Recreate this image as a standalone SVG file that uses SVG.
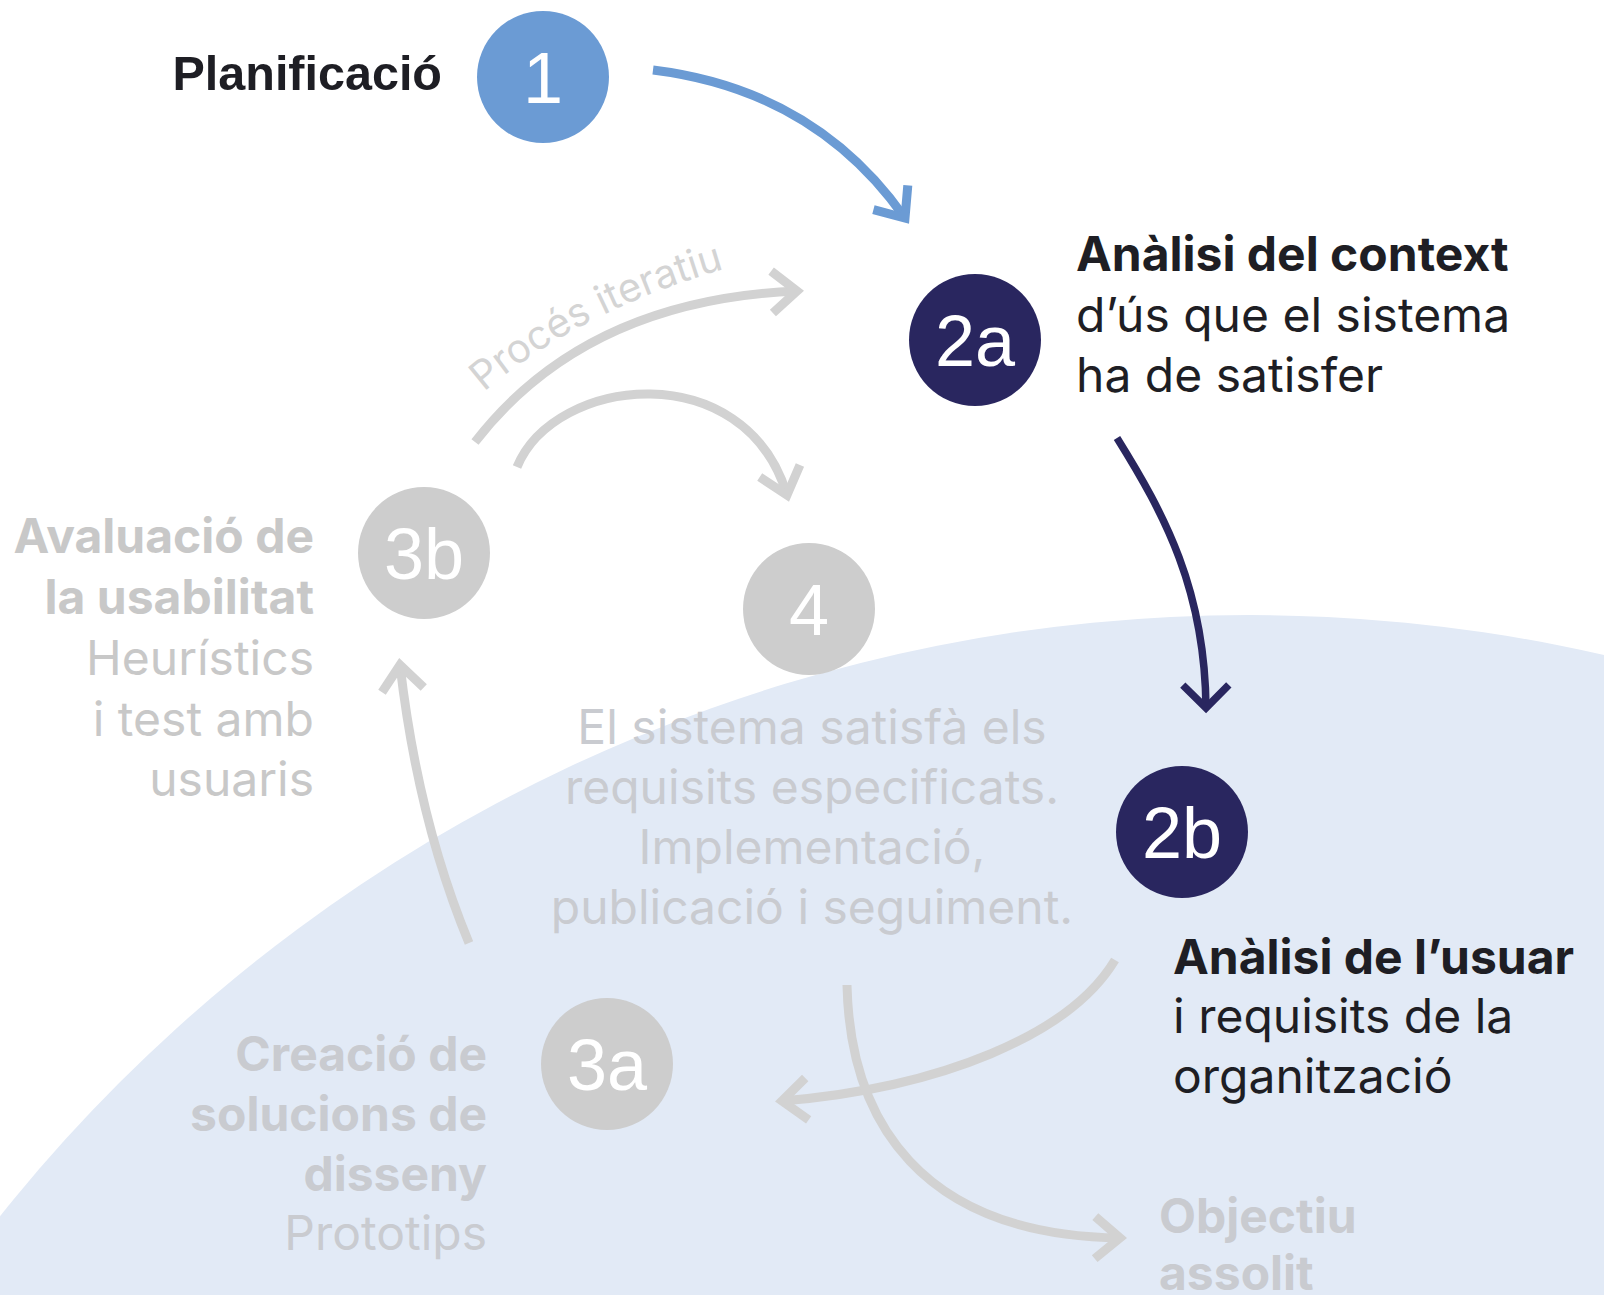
<svg xmlns="http://www.w3.org/2000/svg" width="1604" height="1295" viewBox="0 0 1604 1295">
  <defs>
    <style>
      .num { font-family: "Liberation Sans", Arial, sans-serif; font-size: 72px; fill: #ffffff; text-anchor: middle; }
      .lbl { font-family: Inter, "Liberation Sans", sans-serif; font-size: 48px; }
      .b { font-weight: 700; }
      .end { text-anchor: end; }
      .mid { text-anchor: middle; }
      .dark { fill: #1e1e24; }
      .dim { fill: #c8c8c8; }
      .dimb { fill: #c9cbd0; }
      .conn { fill: none; stroke-linecap: butt; }
      .c-blue { stroke: #6b9bd4; stroke-width: 9; }
      .c-navy { stroke: #29265f; stroke-width: 7.5; }
      .c-gray { stroke: #d2d2d2; stroke-width: 9; }
    </style>
    <marker id="ah-blue" markerUnits="userSpaceOnUse" viewBox="-40 -40 60 80" markerWidth="60" markerHeight="80" refX="0" refY="0" orient="auto" overflow="visible">
      <path d="M-25,-21 L0,0 L-25,21" fill="none" stroke="#6b9bd4" stroke-width="9"/>
    </marker>
    <marker id="ah-navy" markerUnits="userSpaceOnUse" viewBox="-40 -40 60 80" markerWidth="60" markerHeight="80" refX="0" refY="0" orient="auto" overflow="visible">
      <path d="M-23,-23 L0,0 L-23,23" fill="none" stroke="#29265f" stroke-width="7.5"/>
    </marker>
    <marker id="ah-gray" markerUnits="userSpaceOnUse" viewBox="-40 -40 60 80" markerWidth="60" markerHeight="80" refX="0" refY="0" orient="auto" overflow="visible">
      <path d="M-25,-21 L0,0 L-25,21" fill="none" stroke="#d2d2d2" stroke-width="9"/>
    </marker>
    <path id="iterPath" d="M484,392 Q585,305 750,262"/>
  </defs>

  <rect width="1604" height="1295" fill="#ffffff"/>
  <circle id="background" cx="1249" cy="2213" r="1598" fill="#e2eaf6"/>

  <g id="connectors">
    <path class="conn c-blue" d="M653,70 Q815,90 905,218" marker-end="url(#ah-blue)"/>
    <path class="conn c-navy" d="M1117,438 C1165,515 1205,590 1206,708" marker-end="url(#ah-navy)"/>
    <path class="conn c-gray" d="M475,442 Q585,300 797,291" marker-end="url(#ah-gray)"/>
    <path class="conn c-gray" d="M517,467 C555,375 745,355 787,495" marker-end="url(#ah-gray)"/>
    <path class="conn c-gray" d="M469,943 Q418,820 400,665" marker-end="url(#ah-gray)"/>
    <path class="conn c-gray" d="M1115,960 C1070,1035 940,1088 782,1101" marker-end="url(#ah-gray)"/>
    <path class="conn c-gray" d="M847,985 C850,1120 920,1235 1120,1238" marker-end="url(#ah-gray)"/>
    <text class="lbl" style="font-size:40px" fill="#d4d4d4"><textPath href="#iterPath">Procés iteratiu</textPath></text>
  </g>

  <g id="node-1">
    <circle cx="543" cy="77" r="66" fill="#6b9bd4"/>
    <text class="num" x="543" y="103">1</text>
    <text class="b dark end" x="442" y="90" style="font-family:'Liberation Sans',Arial,sans-serif;font-size:48.5px">Planificació</text>
  </g>

  <g id="node-2a">
    <circle cx="975" cy="340" r="66" fill="#29265f"/>
    <text class="num" x="975" y="366">2a</text>
    <text class="lbl b dark" x="1076" y="271">Anàlisi del context</text>
    <text class="lbl dark" x="1076" y="332">d’ús que el sistema</text>
    <text class="lbl dark" x="1076" y="392">ha de satisfer</text>
  </g>

  <g id="node-2b">
    <circle cx="1182" cy="832" r="66" fill="#29265f"/>
    <text class="num" x="1182" y="858">2b</text>
    <text class="lbl b dark" x="1173" y="974">Anàlisi de l’usuar</text>
    <text class="lbl dark" x="1173" y="1033">i requisits de la</text>
    <text class="lbl dark" x="1173" y="1093">organització</text>
  </g>

  <g id="node-3b">
    <circle cx="424" cy="553" r="66" fill="#cdcdcd"/>
    <text class="num" x="424" y="579">3b</text>
    <text class="lbl b dim end" x="314" y="553">Avaluació de</text>
    <text class="lbl b dim end" x="314" y="614">la usabilitat</text>
    <text class="lbl dim end" x="314" y="675">Heurístics</text>
    <text class="lbl dim end" x="314" y="736">i test amb</text>
    <text class="lbl dim end" x="314" y="796">usuaris</text>
  </g>

  <g id="node-4">
    <circle cx="809" cy="609" r="66" fill="#cdcdcd"/>
    <text class="num" x="809" y="635">4</text>
    <text class="lbl dimb mid" x="812" y="744">El sistema satisfà els</text>
    <text class="lbl dimb mid" x="812" y="804">requisits especificats.</text>
    <text class="lbl dimb mid" x="812" y="864">Implementació,</text>
    <text class="lbl dimb mid" x="812" y="924">publicació i seguiment.</text>
  </g>

  <g id="node-3a">
    <circle cx="607" cy="1064" r="66" fill="#cdcdcd"/>
    <text class="num" x="607" y="1090">3a</text>
    <text class="lbl b dimb end" x="487" y="1071">Creació de</text>
    <text class="lbl b dimb end" x="487" y="1131">solucions de</text>
    <text class="lbl b dimb end" x="487" y="1191">disseny</text>
    <text class="lbl dimb end" x="487" y="1250">Prototips</text>
  </g>

  <g id="node-objectiu">
    <text class="lbl b dimb" x="1159" y="1233">Objectiu</text>
    <text class="lbl b dimb" x="1159" y="1290">assolit</text>
  </g>
</svg>
